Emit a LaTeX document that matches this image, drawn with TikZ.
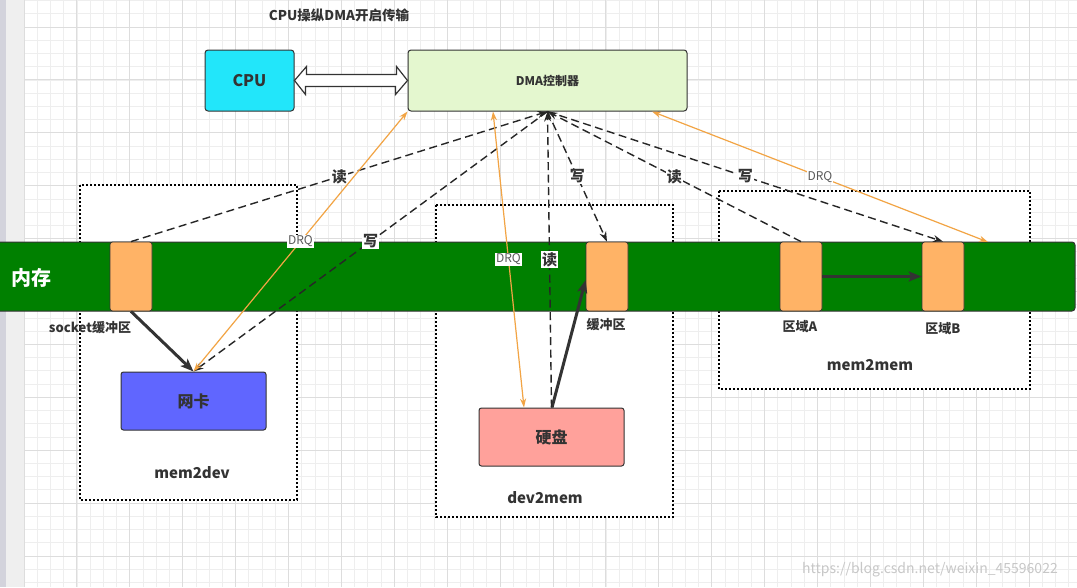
\documentclass[tikz,border=0pt]{standalone}
\usepackage{fontspec}
\setmainfont{Noto Sans CJK SC}
\usetikzlibrary{arrows.meta}

\definecolor{txtgray}{HTML}{333333}
\definecolor{cpucyan}{HTML}{22E6FA}
\definecolor{dmagreen}{HTML}{E4F7CF}
\definecolor{memgreen}{HTML}{008000}
\definecolor{bufrange}{HTML}{FFB366}
\definecolor{nicblue}{HTML}{6066FF}
\definecolor{diskred}{HTML}{FFA19B}
\definecolor{drqorange}{HTML}{F2A444}
\definecolor{gridminor}{HTML}{EEEEEE}
\definecolor{gridmajor}{HTML}{DDDDDD}
\definecolor{stripdark}{HTML}{D3D3DC}
\definecolor{striplight}{HTML}{EFEFEF}

\newcommand{\fsz}[1]{\fontsize{#1}{#1}\selectfont}

\begin{document}
\begin{tikzpicture}[x=1pt,y=-1pt,
    box/.style={draw=txtgray, rounded corners=3pt, line width=1pt, text=txtgray, font=\bfseries},
    buf/.style={draw=txtgray, fill=bufrange, rounded corners=2.5pt, line width=0.8pt,
      minimum width=42pt, minimum height=69pt, inner sep=0pt},
    zone/.style={draw=black, fill=white, line width=1.6pt, dash pattern=on 1.6pt off 2.4pt},
    lbl/.style={text=txtgray, font=\fsz{13}\bfseries, inner sep=1pt},
    zonelbl/.style={text=txtgray, font=\fsz{15}\bfseries},
    rw/.style={draw=black!85, line width=1.4pt, dash pattern=on 8pt off 4.5pt,
      -{Stealth[length=10pt,width=7pt]}},
    drq/.style={draw=drqorange, line width=1.2pt,
      {Stealth[length=9pt,width=6pt]}-{Stealth[length=9pt,width=6pt]}},
    move/.style={draw=txtgray, line width=3pt, -{Stealth[length=13pt,width=10pt,inset=3pt]}},
    busarrow/.style={draw=txtgray, fill=white, line width=1.2pt, line join=miter},
    tag/.style={fill=white, text=txtgray, font=\fsz{15}\bfseries, inner sep=1pt},
    drqtag/.style={fill=white, text=black!65, font=\fsz{12}, inner sep=1pt}]
  \useasboundingbox (0,0) rectangle (1077,587);
  \fill[white] (0,0) rectangle (1077,587);
  \fill[stripdark] (0,0) rectangle (6,587);
  \fill[striplight] (6,0) rectangle (24,587);
  \foreach \i in {0,...,79}
    \draw[gridminor, line width=0.8pt] ({24+13.225*\i},0) -- ({24+13.225*\i},587);
  \foreach \j in {0,...,44}
    \draw[gridminor, line width=0.8pt] (24,{0.55+13.225*\j}) -- (1077,{0.55+13.225*\j});
  \foreach \i in {0,...,20}
    \draw[gridmajor, line width=0.9pt] ({24+52.9*\i},0) -- ({24+52.9*\i},587);
  \foreach \j in {0,...,11}
    \draw[gridmajor, line width=0.9pt] (24,{27+52.9*\j}) -- (1077,{27+52.9*\j});

  \draw[zone] (80,185) rectangle (297,500);
  \draw[zone] (436,205) rectangle (673,517);
  \draw[zone] (719,191) rectangle (1030,389);

  \node[text=txtgray, font=\fsz{13.5}\bfseries] (title) at (339,15) {CPU操纵DMA开启传输};
  \node[box, fill=cpucyan, minimum width=89pt, minimum height=61pt, font=\fsz{16}\bfseries]
    (cpu) at (249.5,80.5) {CPU};
  \node[box, fill=dmagreen, minimum width=279pt, minimum height=61pt, font=\fsz{12}\bfseries]
    (dma) at (547.5,80.5) {DMA控制器};
  \draw[busarrow] (cpu.east) -- ++(12,-14) -- ++(0,8) -- ++(90,0) -- ++(0,-8)
    -- (dma.west) -- ++(-12,14) -- ++(0,-8) -- ++(-90,0) -- ++(0,8) -- cycle;

  \node[draw=txtgray, fill=memgreen, rounded corners=3pt, line width=1pt,
    minimum width=1085pt, minimum height=69pt] (mem) at (532.5,276.5) {};
  \node[text=white, font=\fsz{20}\bfseries] (memtxt) at (32,278) {内存};
  \node[buf] (sockbuf) at (131,276.5) {};
  \node[buf] (diskbuf) at (607,276.5) {};
  \node[buf] (areaA) at (801,276.5) {};
  \node[buf] (areaB) at (943,276.5) {};
  \coordinate (drqin) at (988,242);

  \node[box, fill=nicblue, rounded corners=2.5pt, minimum width=145pt, minimum height=58pt,
    font=\fsz{16}\bfseries] (nic) at (193.5,401) {网卡};
  \node[box, fill=diskred, rounded corners=2.5pt, minimum width=145pt, minimum height=58pt,
    font=\fsz{16}\bfseries] (disk) at (551.5,437) {硬盘};

  \node[lbl] (lsock) at (90,328) {socket缓冲区};
  \node[lbl] (lbuf) at (606,325) {缓冲区};
  \node[lbl] (lA) at (800,327) {区域A};
  \node[lbl] (lB) at (943,329) {区域B};
  \node[zonelbl] (l2dev) at (192,473) {mem2dev};
  \node[zonelbl] (l2mem) at (545,498) {dev2mem};
  \node[zonelbl] (lmm) at (870,365) {mem2mem};

  \begin{scope}
    \draw[move] (sockbuf.south) -- (nic.north);
    \draw[move] ([xshift=0.5pt]disk.north) -- ([yshift=-3.5pt]diskbuf.west);
    \draw[move] (areaA.east) -- (areaB.west);

    \draw[rw] (sockbuf.north) -- node[tag] {读} (dma.south);
    \draw[rw] (dma.south) -- node[tag] {写} (nic.north);
    \draw[rw] (disk.north) -- node[tag] {读} (dma.south);
    \draw[rw] (dma.south) -- node[tag] {写} (diskbuf.north);
    \draw[rw] (areaA.north) -- node[tag] {读} (dma.south);
    \draw[rw] (dma.south) -- node[tag] {写} (areaB.north);

    \draw[drq] (dma.south west) -- node[drqtag] {DRQ} (nic.north);
    \draw[drq] ([xshift=-54.5pt]dma.south) -- node[drqtag] {DRQ} ([xshift=-27.5pt]disk.north);
    \draw[drq] ([xshift=104.5pt]dma.south) -- node[drqtag] {DRQ} (drqin);
  \end{scope}

  \node[text=black!22, font=\fsz{14}] (mark) at (930,570) {https://blog.csdn.net/weixin\_45596022};
\end{tikzpicture}
\end{document}
